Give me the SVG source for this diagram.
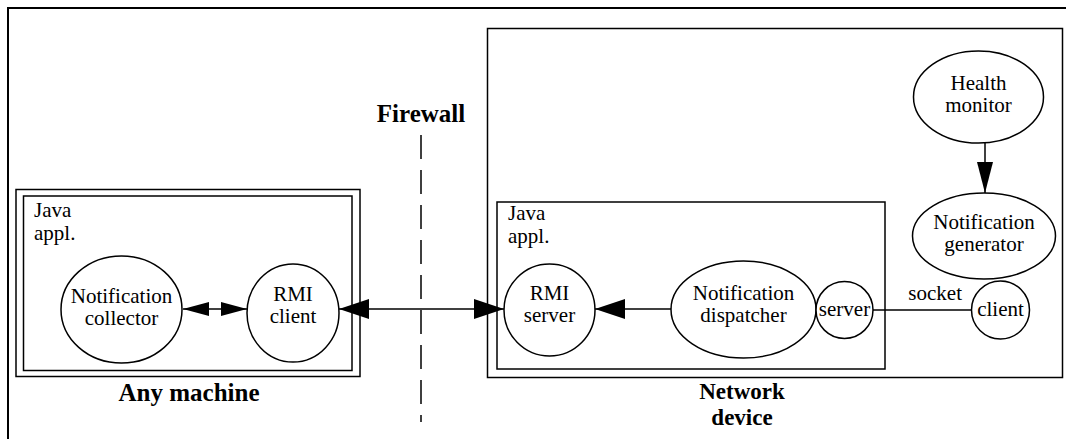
<svg xmlns="http://www.w3.org/2000/svg" width="1066" height="439" viewBox="0 0 1066 439" font-family="'Liberation Serif', 'Times New Roman', Times, serif">
<style>
.box{fill:none;stroke:#000;stroke-width:1.5}
.node{fill:#fff;stroke:#000;stroke-width:1.5}
text{font-family:'Liberation Serif','Times New Roman',Times,serif;font-size:21px;fill:#000}
.tc{text-anchor:middle}
.b{font-weight:bold;font-size:25px;text-anchor:middle}
.nd{font-size:23px}
.edge{stroke:#000;stroke-width:1.5;fill:none}
</style>
<defs>
<marker id="big" markerUnits="userSpaceOnUse" markerWidth="30" markerHeight="20" refX="30" refY="10" orient="auto-start-reverse" viewBox="0 0 30 20">
<path d="M0,0 L30,10 L0,20 z" fill="#000"/>
</marker>
<marker id="small" markerUnits="userSpaceOnUse" markerWidth="26" markerHeight="14" refX="26" refY="7" orient="auto-start-reverse" viewBox="0 0 26 14">
<path d="M0,0 L26,7 L0,14 z" fill="#000"/>
</marker>
<marker id="tall" markerUnits="userSpaceOnUse" markerWidth="31" markerHeight="16" refX="31" refY="8" orient="auto" viewBox="0 0 31 16">
<path d="M0,0 L31,8 L0,16 z" fill="#000"/>
</marker>
</defs>
<rect width="1066" height="439" fill="#fff"/>
<g id="frame">
<path d="M8,439 L8,8 L1066,8" fill="none" stroke="#000" stroke-width="2"/>
</g>
<g id="any-machine">
<rect class="box" x="16" y="189.5" width="344" height="187"/>
<rect class="box" x="23.5" y="196" width="328.5" height="174.5"/>
<text x="34" y="217">Java</text>
<text x="34" y="240">appl.</text>
<text class="b" x="189" y="401">Any machine</text>
</g>
<g id="firewall">
<text class="b" x="421" y="122">Firewall</text>
<line x1="421" y1="135" x2="421" y2="422" stroke="#000" stroke-width="1.5" stroke-dasharray="24,11"/>
</g>
<g id="network-device">
<rect class="box" x="487.5" y="28.5" width="575" height="349"/>
<text class="b nd" x="742" y="399"><tspan x="742">Network</tspan><tspan x="742" dy="26">device</tspan></text>
</g>
<g id="java-appl-device">
<rect class="box" x="497" y="202" width="388" height="167"/>
<text x="508" y="220">Java</text>
<text x="508" y="243">appl.</text>
</g>
<g id="connectors">
<line class="edge" x1="183" y1="309" x2="247" y2="309" marker-start="url(#small)" marker-end="url(#small)"/>
<line class="edge" x1="339" y1="309" x2="504" y2="309" marker-start="url(#big)" marker-end="url(#big)"/>
<line class="edge" x1="671" y1="309" x2="595" y2="309" marker-end="url(#big)"/>
<line class="edge" x1="873" y1="310" x2="971" y2="310"/>
<line class="edge" x1="985" y1="143" x2="985" y2="193" marker-end="url(#tall)"/>
<text x="962" y="300" text-anchor="end">socket</text>
</g>
<g id="notification-collector">
<ellipse class="node" cx="121.5" cy="309.5" rx="60.5" ry="53.5"/>
<text class="tc" x="121.5" y="303">Notification</text>
<text class="tc" x="121.5" y="325">collector</text>
</g>
<g id="rmi-client">
<ellipse class="node" cx="293" cy="313" rx="46" ry="49"/>
<text class="tc" x="293" y="301">RMI</text>
<text class="tc" x="293" y="323">client</text>
</g>
<g id="rmi-server">
<ellipse class="node" cx="549.5" cy="310" rx="45.5" ry="46"/>
<text class="tc" x="549.5" y="300">RMI</text>
<text class="tc" x="549.5" y="322">server</text>
</g>
<g id="notification-dispatcher">
<ellipse class="node" cx="743.5" cy="309.5" rx="72.5" ry="48.5"/>
<text class="tc" x="743.5" y="300">Notification</text>
<text class="tc" x="743.5" y="322">dispatcher</text>
</g>
<g id="server">
<circle class="node" cx="844.5" cy="310" r="28.5"/>
<text class="tc" x="844.5" y="316">server</text>
</g>
<g id="client">
<circle class="node" cx="1000.5" cy="310" r="29"/>
<text class="tc" x="1000.5" y="316">client</text>
</g>
<g id="health-monitor">
<ellipse class="node" cx="978.5" cy="97" rx="65" ry="46"/>
<text class="tc" x="978.5" y="90">Health</text>
<text class="tc" x="978.5" y="112">monitor</text>
</g>
<g id="notification-generator">
<ellipse class="node" cx="984" cy="236" rx="71.5" ry="43"/>
<text class="tc" x="984" y="229">Notification</text>
<text class="tc" x="984" y="251">generator</text>
</g>
</svg>
